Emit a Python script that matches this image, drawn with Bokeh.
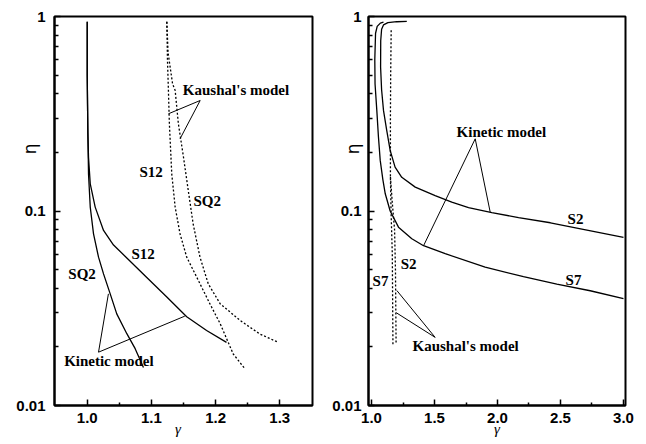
from bokeh.plotting import figure
from bokeh.layouts import row
from bokeh.models import FixedTicker, NumeralTickFormatter, CustomJSTickFormatter, Label
from bokeh.embed import file_html
from bokeh.resources import INLINE

# ---------------- data: left panel ----------------
L_kin_SQ2_g = [1.0, 1.0, 1.0005, 1.001, 1.002, 1.0047, 1.0098, 1.0176, 1.0254, 1.0358, 1.046, 1.0617, 1.0747, 1.0876]
L_kin_SQ2_e = [0.94, 0.5, 0.35, 0.25, 0.155, 0.1047, 0.0763, 0.0579, 0.0475, 0.0375, 0.0296, 0.0234, 0.0196, 0.0157]
L_kin_S12_g = [1.0, 1.0, 1.0005, 1.001, 1.002, 1.0047, 1.0124, 1.0254, 1.041, 1.0669, 1.0928, 1.124, 1.155, 1.186, 1.217]
L_kin_S12_e = [0.94, 0.5, 0.35, 0.25, 0.189, 0.138, 0.1047, 0.0794, 0.0668, 0.0552, 0.0455, 0.0361, 0.0286, 0.0243, 0.0211]
L_kau_S12_g = [1.124, 1.125, 1.1265, 1.128, 1.1317, 1.137, 1.1446, 1.155, 1.1706, 1.191, 1.207, 1.2275, 1.246]
L_kau_S12_e = [0.94, 0.6, 0.417, 0.281, 0.155, 0.1047, 0.0763, 0.0579, 0.0457, 0.0334, 0.0264, 0.0184, 0.0154]
L_kau_SQ2_g = [1.124, 1.126, 1.133, 1.137, 1.142, 1.150, 1.1575, 1.165, 1.1757, 1.1886, 1.207, 1.238, 1.269, 1.298]
L_kau_SQ2_e = [0.94, 0.65, 0.45, 0.417, 0.281, 0.189, 0.127, 0.0859, 0.0579, 0.0422, 0.0334, 0.0274, 0.0233, 0.0211]

# ---------------- data: right panel ----------------
R_kin_S2_g = [1.28, 1.2, 1.13, 1.095, 1.08, 1.073, 1.072, 1.08, 1.095, 1.121, 1.148, 1.187, 1.24, 1.347, 1.505, 1.637, 1.77, 1.955, 2.167, 2.42, 2.7, 3.0]
R_kin_S2_e = [0.943, 0.94, 0.93, 0.905, 0.86, 0.75, 0.55, 0.42, 0.329, 0.259, 0.205, 0.168, 0.149, 0.1327, 0.12, 0.111, 0.104, 0.098, 0.0925, 0.087, 0.08, 0.0732]
R_kin_S7_g = [1.095, 1.07, 1.045, 1.032, 1.026, 1.028, 1.042, 1.055, 1.069, 1.09, 1.109, 1.148, 1.214, 1.32, 1.413, 1.585, 1.902, 2.206, 2.471, 2.736, 3.0]
R_kin_S7_e = [0.935, 0.925, 0.89, 0.82, 0.6, 0.45, 0.329, 0.24, 0.182, 0.145, 0.1226, 0.1, 0.0826, 0.072, 0.0663, 0.0603, 0.0514, 0.046, 0.0421, 0.0389, 0.0354]
R_kau_S2_g = [1.156, 1.152, 1.15, 1.15, 1.155, 1.165, 1.17]
R_kau_S2_e = [0.85, 0.5, 0.3, 0.15, 0.1, 0.06, 0.0206]
R_kau_S7_g = [1.15, 1.165, 1.183, 1.19, 1.195]
R_kau_S7_e = [0.15, 0.11, 0.08, 0.05, 0.0206]

# ---------------- annotations ----------------
L_ptr_x = [[1.176, 1.1265], [1.176, 1.1446], [1.0176, 1.033], [1.0176, 1.152]]
L_ptr_y = [[0.37, 0.316], [0.37, 0.235], [0.0188, 0.0375], [0.0188, 0.0288]]
R_ptr_x = [[1.823, 1.942], [1.823, 1.413], [1.505, 1.201], [1.505, 1.196]]
R_ptr_y = [[0.235, 0.0987], [0.235, 0.0663], [0.0224, 0.039], [0.0224, 0.030]]

L_txt = ["Kaushal's model", "S12", "SQ2", "S12", "SQ2", "Kinetic model"]
L_txt_x = [1.149, 1.0995, 1.187, 1.087, 0.992, 0.964]
L_txt_y = [0.417, 0.158, 0.113, 0.0598, 0.0472, 0.017]
L_txt_al = ["left", "center", "center", "center", "center", "left"]
R_txt = ["Kinetic model", "S2", "S7", "S2", "S7", "Kaushal's model"]
R_txt_x = [1.675, 2.619, 2.603, 1.294, 1.071, 1.325]
R_txt_y = [0.256, 0.0905, 0.0444, 0.0537, 0.0435, 0.0202]
R_txt_al = ["left", "center", "center", "center", "center", "left"]

L_xticks = [1.0, 1.1, 1.2, 1.3]
L_xminor = [1.05, 1.15, 1.25]
R_xticks = [1.0, 1.5, 2.0, 2.5, 3.0]
R_xminor = [1.25, 1.75, 2.25, 2.75]
yticks = [0.01, 0.1, 1]
yminor = [m * d for d in (0.01, 0.1) for m in range(2, 10)]

SERIF = "Liberation Serif"
SANS = "Liberation Sans"
NB = "\u00a0"


def make_fig(xr, xt, xm, fw, mbl, mbr, ylab_standoff, ytick_standoff, xlabel):
    p = figure(frame_width=fw, frame_height=389, x_range=xr, y_range=(0.01, 1), y_axis_type="log",
               output_backend="svg", toolbar_location=None,
               min_border_left=mbl, min_border_right=mbr, min_border_top=16, min_border_bottom=39)
    p.grid.visible = False
    p.outline_line_color = "black"
    p.outline_line_width = 2
    p.background_fill_color = "white"
    p.border_fill_color = "white"
    p.xaxis.ticker = FixedTicker(ticks=xt, minor_ticks=xm)
    p.xaxis.formatter = NumeralTickFormatter(format="0.0")
    p.yaxis.ticker = FixedTicker(ticks=yticks, minor_ticks=yminor)
    p.yaxis.formatter = CustomJSTickFormatter(code="return String(tick)")
    for ax in (p.xaxis, p.yaxis):
        ax.axis_line_width = 2
        ax.axis_line_color = "black"
        ax.major_tick_in = 6
        ax.major_tick_out = 0
        ax.minor_tick_in = 3
        ax.minor_tick_out = 0
        ax.major_tick_line_width = 1.5
        ax.minor_tick_line_width = 1.5
        ax.major_tick_line_color = "black"
        ax.minor_tick_line_color = "black"
        ax.major_label_text_font = SANS
        ax.major_label_text_font_style = "bold"
        ax.major_label_text_font_size = "15px"
        ax.major_label_text_color = "black"
    p.xaxis.major_label_standoff = 7
    p.yaxis.major_label_standoff = ytick_standoff
    p.yaxis.minor_tick_in = 4
    # axis titles
    p.yaxis.axis_label = NB * 23 + "η"
    p.yaxis.axis_label_text_font = "DejaVu Sans"
    p.yaxis.axis_label_text_font_style = "normal"
    p.yaxis.axis_label_text_font_size = "17px"
    p.yaxis.axis_label_text_color = "black"
    p.yaxis.axis_label_standoff = ylab_standoff
    p.xaxis.axis_label = xlabel
    p.xaxis.axis_label_text_font = SERIF
    p.xaxis.axis_label_text_font_style = "italic"
    p.xaxis.axis_label_text_font_size = "15px"
    p.xaxis.axis_label_text_color = "black"
    p.xaxis.axis_label_standoff = -5
    return p


def decorate(p, ptr_x, ptr_y, txt, tx, ty, tal):
    p.multi_line(ptr_x, ptr_y, line_color="black", line_width=1)
    for t, x, y, a in zip(txt, tx, ty, tal):
        p.add_layout(Label(x=x, y=y, text=t, text_font=SERIF, text_font_style="bold",
                           text_font_size="15px", text_align=a, text_baseline="middle",
                           text_color="black"))


p1 = make_fig((0.949, 1.351), L_xticks, L_xminor, 258, 54, 11, -27, 9, "γ" + NB * 3)
p1.line(L_kin_SQ2_g, L_kin_SQ2_e, line_color="black", line_width=1.3)
p1.line(L_kin_S12_g, L_kin_S12_e, line_color="black", line_width=1.3)
p1.line(L_kau_S12_g, L_kau_S12_e, line_color="black", line_width=1.3, line_dash="2 2")
p1.line(L_kau_SQ2_g, L_kau_SQ2_e, line_color="black", line_width=1.3, line_dash="2 2")
decorate(p1, L_ptr_x, L_ptr_y, L_txt, L_txt_x, L_txt_y, L_txt_al)

p2 = make_fig((0.976, 3.016), R_xticks, R_xminor, 257, 45, 21, -34, 7, "γ")
p2.line(R_kin_S2_g, R_kin_S2_e, line_color="black", line_width=1.3)
p2.line(R_kin_S7_g, R_kin_S7_e, line_color="black", line_width=1.3)
p2.line(R_kau_S2_g, R_kau_S2_e, line_color="black", line_width=1.3, line_dash="2 2")
p2.line(R_kau_S7_g, R_kau_S7_e, line_color="black", line_width=1.3, line_dash="2 2")
decorate(p2, R_ptr_x, R_ptr_y, R_txt, R_txt_x, R_txt_y, R_txt_al)

layout = row(p1, p2)
open("out.html", "w").write(file_html(layout, INLINE))
